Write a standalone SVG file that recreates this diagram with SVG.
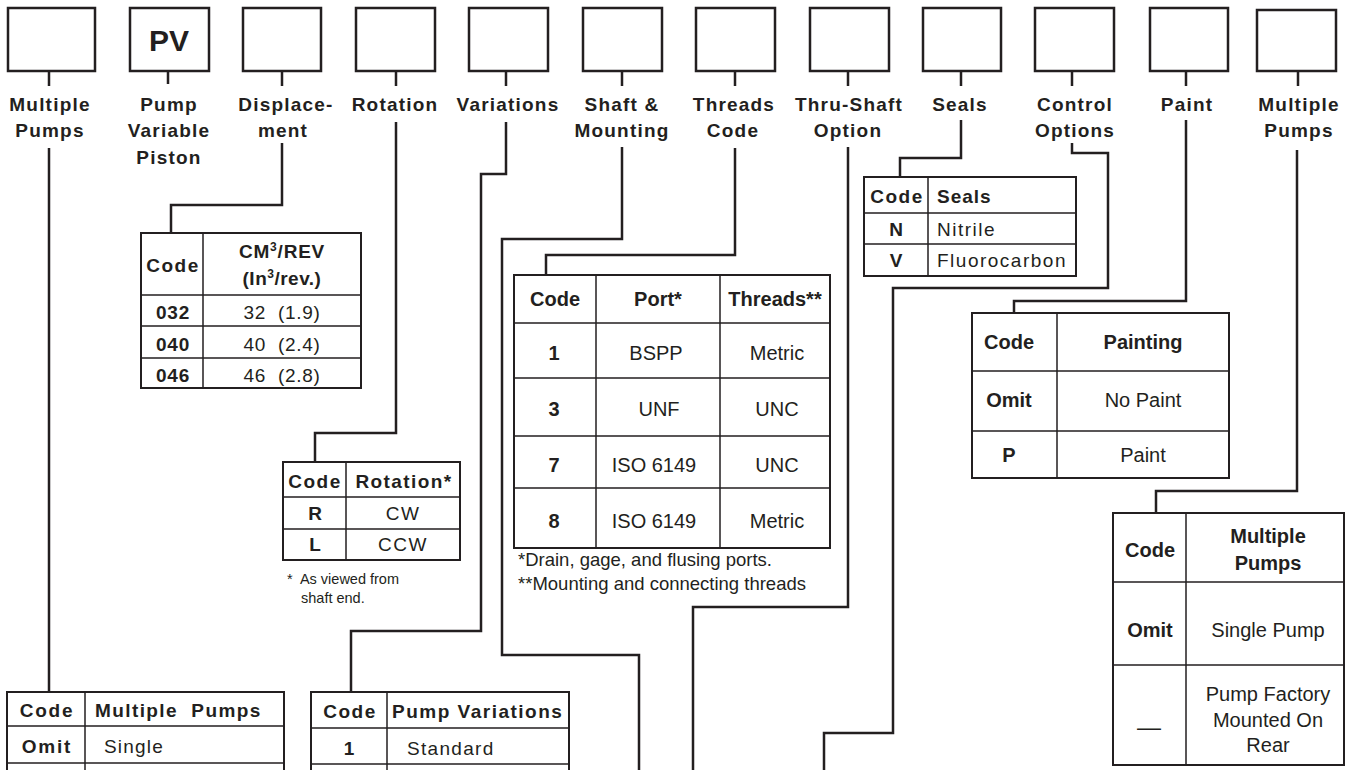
<svg xmlns="http://www.w3.org/2000/svg" width="1349" height="770" viewBox="0 0 1349 770">
<style>
text{font-family:"Liberation Sans",Arial,sans-serif;fill:#231f20}
.box{fill:#fff;stroke:#231f20;stroke-width:2.5}
.ln{fill:none;stroke:#231f20;stroke-width:2.5}
.tb{fill:#fff;stroke:#231f20;stroke-width:2}
.tl{fill:none;stroke:#231f20;stroke-width:1.5}
.lbl{font-size:19px;font-weight:bold;letter-spacing:1.2px;text-anchor:middle}
.c{text-anchor:middle}
.b{font-weight:bold}
.s19{font-size:19px}
.s20{font-size:20px}
.ls{letter-spacing:1.5px}
.fn{font-size:18.5px}
.fn2{font-size:14.5px}
</style>
<rect width="1349" height="770" fill="#fff"/>

<g id="connectors">
<path class="ln" d="M49,71V86M168,71V84M282,71V86M396,71V86M506,71V86M622,71V86M735,71V86M848,71V86M961,71V86M1072,71V86M1186,71V86M1298,71V86"/>
<path class="ln" d="M49,148V692"/>
<path class="ln" d="M282,143V205H171V233"/>
<path class="ln" d="M396,122V433H315V462"/>
<path class="ln" d="M506,122V174H481V631H351V692"/>
<path class="ln" d="M622,147V239H502V655H639V770"/>
<path class="ln" d="M735,148V255H546V275"/>
<path class="ln" d="M848,147V607H693V770"/>
<path class="ln" d="M961,120V158H900V177"/>
<path class="ln" d="M1072,143V153H1108V288H893V733H824V770"/>
<path class="ln" d="M1186,120V301H1014V313"/>
<path class="ln" d="M1297,150V491H1156V513"/>
</g>

<g id="n-multiple-pumps">
<rect class="box" x="8" y="8" width="87" height="63"/>
<text class="lbl" x="50" y="111">Multiple</text>
<text class="lbl" x="50" y="137">Pumps</text>
</g>
<g id="n-pv">
<rect class="box" x="130" y="8" width="79" height="63"/>
<text class="c b" x="169" y="51" font-size="30">PV</text>
<text class="lbl" x="169" y="111">Pump</text>
<text class="lbl" x="169" y="137">Variable</text>
<text class="lbl" x="169" y="164">Piston</text>
</g>
<g id="n-displacement">
<rect class="box" x="243" y="8" width="78" height="63"/>
<text class="lbl" x="286" y="111">Displace-</text>
<text class="lbl" x="283" y="137">ment</text>
</g>
<g id="n-rotation">
<rect class="box" x="356" y="8" width="79" height="63"/>
<text class="lbl" x="395" y="111">Rotation</text>
</g>
<g id="n-variations">
<rect class="box" x="469" y="8" width="79" height="63"/>
<text class="lbl" x="508" y="111">Variations</text>
</g>
<g id="n-shaft">
<rect class="box" x="583" y="8" width="79" height="63"/>
<text class="lbl" x="622" y="111">Shaft &amp;</text>
<text class="lbl" x="622" y="137">Mounting</text>
</g>
<g id="n-threads">
<rect class="box" x="696" y="8" width="79" height="63"/>
<text class="lbl" x="734" y="111">Threads</text>
<text class="lbl" x="733" y="137">Code</text>
</g>
<g id="n-thru-shaft">
<rect class="box" x="810" y="8" width="79" height="63"/>
<text class="lbl" x="849" y="111">Thru-Shaft</text>
<text class="lbl" x="848" y="137">Option</text>
</g>
<g id="n-seals">
<rect class="box" x="923" y="8" width="78" height="63"/>
<text class="lbl" x="960" y="111">Seals</text>
</g>
<g id="n-control">
<rect class="box" x="1035" y="8" width="79" height="63"/>
<text class="lbl" x="1075" y="111">Control</text>
<text class="lbl" x="1075" y="137">Options</text>
</g>
<g id="n-paint">
<rect class="box" x="1150" y="8" width="78" height="63"/>
<text class="lbl" x="1187" y="111">Paint</text>
</g>
<g id="n-multiple-pumps-2">
<rect class="box" x="1257" y="10" width="79" height="61"/>
<text class="lbl" x="1299" y="111">Multiple</text>
<text class="lbl" x="1299" y="137">Pumps</text>
</g>

<g id="t-displacement">
<rect class="tb" x="141" y="233" width="220" height="155"/>
<path class="tl" d="M203,233V388M141,295H361M141,326H361M141,358H361"/>
<text class="c b s19 ls" x="173" y="272">Code</text>
<text class="c b s19" x="282" y="258" letter-spacing="0.8">CM<tspan font-size="12" dy="-7">3</tspan><tspan dy="7">/REV</tspan></text>
<text class="c b s19" x="282" y="285" letter-spacing="0.5">(In<tspan font-size="12" dy="-7">3</tspan><tspan dy="7">/rev.)</tspan></text>
<text class="c b s19" x="173" y="319" letter-spacing="0.8">032</text>
<text class="c s19" x="282" y="319" letter-spacing="0.7" xml:space="preserve">32  (1.9)</text>
<text class="c b s19" x="173" y="351" letter-spacing="0.8">040</text>
<text class="c s19" x="282" y="351" letter-spacing="0.7" xml:space="preserve">40  (2.4)</text>
<text class="c b s19" x="173" y="382" letter-spacing="0.8">046</text>
<text class="c s19" x="282" y="382" letter-spacing="0.7" xml:space="preserve">46  (2.8)</text>
</g>

<g id="t-rotation">
<rect class="tb" x="283" y="462" width="177" height="98"/>
<path class="tl" d="M346,462V560M283,497H460M283,529H460"/>
<text class="c b s19 ls" x="315" y="488">Code</text>
<text class="c b s19" x="404" y="488" letter-spacing="1.4">Rotation*</text>
<text class="c b s19" x="315" y="520">R</text>
<text class="c s19 ls" x="403" y="520">CW</text>
<text class="c b s19" x="315" y="551">L</text>
<text class="c s19 ls" x="403" y="551">CCW</text>
<text class="fn2" x="287" y="584" xml:space="preserve">*  As viewed from</text>
<text class="fn2" x="301" y="603">shaft end.</text>
</g>

<g id="t-threads">
<rect class="tb" x="514" y="275" width="316" height="273"/>
<path class="tl" d="M596,275V548M720,275V548M514,323H830M514,378H830M514,436H830M514,488H830"/>
<text class="c b s20" x="555" y="306">Code</text>
<text class="c b s20" x="658" y="306">Port*</text>
<text class="c b s20" x="775" y="306">Threads**</text>
<text class="c b s20" x="554" y="360">1</text>
<text class="c s20" x="656" y="360">BSPP</text>
<text class="c s20" x="777" y="360">Metric</text>
<text class="c b s20" x="554" y="416">3</text>
<text class="c s20" x="659" y="416">UNF</text>
<text class="c s20" x="777" y="416">UNC</text>
<text class="c b s20" x="554" y="472">7</text>
<text class="c s20" x="654" y="472">ISO 6149</text>
<text class="c s20" x="777" y="472">UNC</text>
<text class="c b s20" x="554" y="528">8</text>
<text class="c s20" x="654" y="528">ISO 6149</text>
<text class="c s20" x="777" y="528">Metric</text>
<text class="fn" x="518" y="566">*Drain, gage, and flusing ports.</text>
<text class="fn" x="518" y="590">**Mounting and connecting threads</text>
</g>

<g id="t-seals">
<rect class="tb" x="864" y="177" width="212" height="99"/>
<path class="tl" d="M928,177V276M864,213H1076M864,244H1076"/>
<text class="c b s19 ls" x="897" y="203">Code</text>
<text class="b s19" x="937" y="203" letter-spacing="1">Seals</text>
<text class="c b s19" x="896" y="236">N</text>
<text class="s19 ls" x="937" y="236">Nitrile</text>
<text class="c b s19" x="896" y="267">V</text>
<text class="s19 ls" x="937" y="267">Fluorocarbon</text>
</g>

<g id="t-painting">
<rect class="tb" x="972" y="313" width="257" height="165"/>
<path class="tl" d="M1057,313V478M972,371H1229M972,431H1229"/>
<text class="c b s20" x="1009" y="349">Code</text>
<text class="c b s20" x="1143" y="349">Painting</text>
<text class="c b s20" x="1009" y="407">Omit</text>
<text class="c s20" x="1143" y="407">No Paint</text>
<text class="c b s20" x="1009" y="462">P</text>
<text class="c s20" x="1143" y="462">Paint</text>
</g>

<g id="t-multiple-pumps-right">
<rect class="tb" x="1113" y="513" width="231" height="252"/>
<path class="tl" d="M1186,513V765M1113,582H1344M1113,665H1344"/>
<text class="c b s20" x="1150" y="557">Code</text>
<text class="c b s20" x="1268" y="543">Multiple</text>
<text class="c b s20" x="1268" y="570">Pumps</text>
<text class="c b s20" x="1150" y="637">Omit</text>
<text class="c s20" x="1268" y="637">Single Pump</text>
<text class="c" x="1149" y="735" font-size="24">—</text>
<text class="c s20" x="1268" y="701">Pump Factory</text>
<text class="c s20" x="1268" y="727">Mounted On</text>
<text class="c s20" x="1268" y="752">Rear</text>
</g>

<g id="t-multiple-pumps-left">
<rect class="tb" x="7" y="692" width="277" height="110"/>
<path class="tl" d="M85,692V802M7,726H284M7,763H284"/>
<text class="c b s19" x="47" y="717" letter-spacing="1.8">Code</text>
<text class="b s19" x="95" y="717" letter-spacing="1.4" xml:space="preserve">Multiple  Pumps</text>
<text class="c b s19" x="47" y="753" letter-spacing="1.8">Omit</text>
<text class="s19" x="104" y="753" letter-spacing="1.2">Single</text>
</g>

<g id="t-pump-variations">
<rect class="tb" x="311" y="692" width="258" height="110"/>
<path class="tl" d="M387,692V802M311,728H569M311,764H569"/>
<text class="c b s19 ls" x="350" y="718">Code</text>
<text class="b s19 ls" x="392" y="718">Pump Variations</text>
<text class="c b s19" x="349" y="755">1</text>
<text class="s19" x="407" y="755" letter-spacing="1.3">Standard</text>
</g>
</svg>
